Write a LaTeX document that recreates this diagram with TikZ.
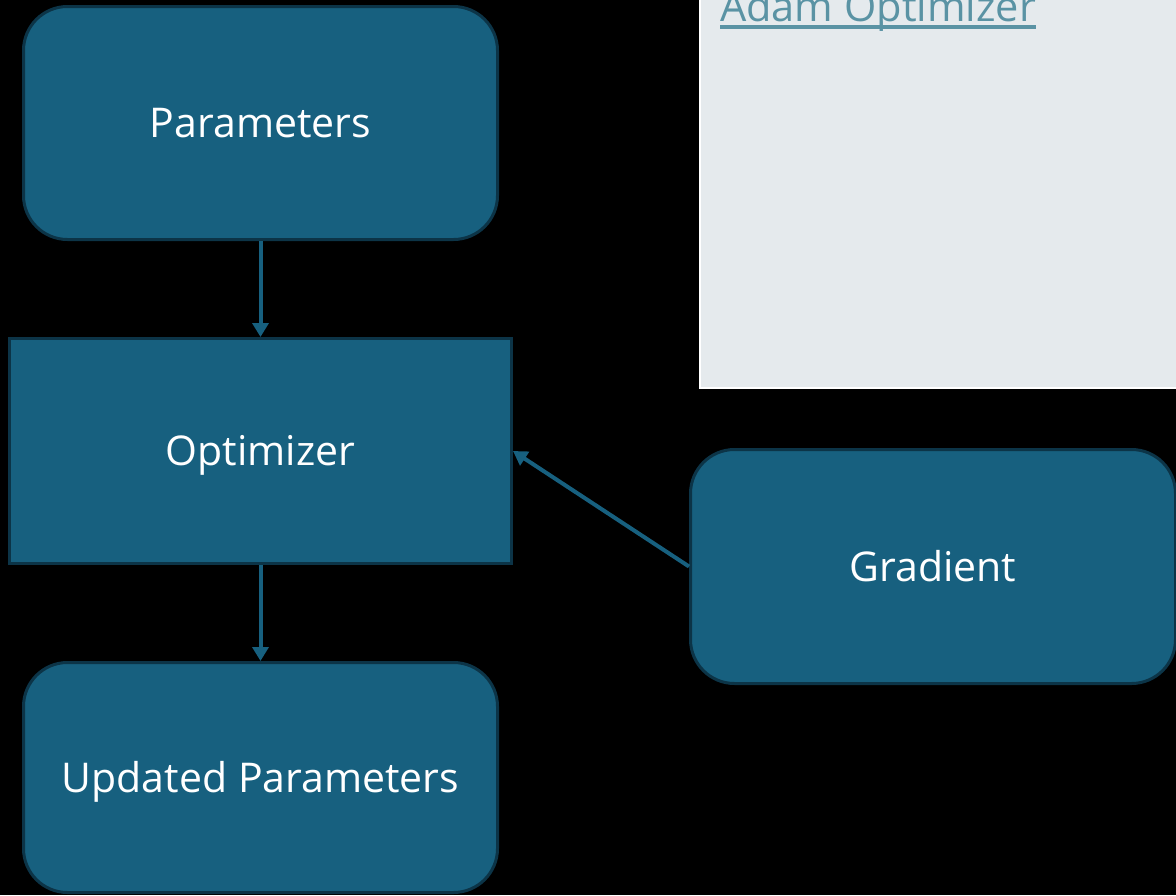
\documentclass[tikz,border=0pt]{standalone}
\usepackage{fontspec}
\setmainfont{Open Sans}
\usetikzlibrary{arrows.meta}
\definecolor{boxfill}{HTML}{17607F}
\definecolor{boxedge}{HTML}{0C3447}
\definecolor{panelfill}{HTML}{E5EAED}
\definecolor{linkcol}{HTML}{5A93A4}
\tikzset{
  stage/.style={draw=boxedge, line width=3pt, fill=boxfill, text=white,
    font=\fontsize{41}{49}\selectfont, inner sep=0pt,
    text height=29.3pt, text depth=0pt},
  roundstage/.style={stage, rounded corners=44pt},
  flow/.style={draw=boxfill, line width=4pt,
    -{Triangle[width=16pt,length=14pt]}}
}
\begin{document}
\begin{tikzpicture}[x=1pt,y=-1pt]
  \useasboundingbox (0,0) rectangle (1176,895);
  \fill[black] (0,0) rectangle (1176,895);
  \clip (0,0) rectangle (1176,895);

  % note panel at the top right
  \draw[draw=white, line width=2pt, fill=panelfill] (700,-20) rectangle (1200,388);
  \node[anchor=base west, inner sep=0pt, text=linkcol,
        font=\fontsize{41.5}{49}\selectfont] (link) at (720,21)
        {Adam Optimizer};
  \draw[linkcol, line width=3.2pt]
    ([yshift=-6pt]link.base west) -- ([yshift=-6pt]link.base east);

  % flow stages
  \node[roundstage, minimum width=474pt, minimum height=233pt] (params) at (260.5,123) {Parameters};
  \node[stage, minimum width=502pt, minimum height=225pt] (opt) at (260.5,451) {Optimizer};
  \node[roundstage, minimum width=474pt, minimum height=230pt] (upd) at (260.5,777.5) {Updated Parameters};
  \node[roundstage, minimum width=485pt, minimum height=234pt] (grad) at (933,566.5) {Gradient};

  % connectors
  \draw[flow] (params.south) -- (opt.north);
  \draw[flow] (opt.south) -- (upd.north);
  \draw[flow] (grad.west) -- (opt.east);
\end{tikzpicture}
\end{document}
